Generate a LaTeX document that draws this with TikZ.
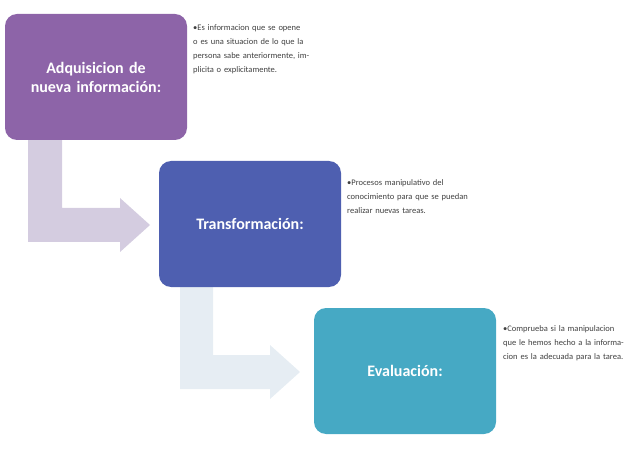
\documentclass[tikz,border=0pt]{standalone}
\usepackage{fontspec}
\setmainfont{Carlito}
\definecolor{c1}{HTML}{8D64A8}
\definecolor{c2}{HTML}{4E5FB0}
\definecolor{c3}{HTML}{46A9C4}
\definecolor{a1}{HTML}{D4CCE0}
\definecolor{a2}{HTML}{E6EDF3}
\definecolor{tx}{HTML}{404040}
\begin{document}
\begin{tikzpicture}[x=1pt,y=-1pt,
  box/.style={rounded corners=12pt,minimum width=182pt,minimum height=126pt,text width=170pt,align=center,font=\bfseries\fontsize{16}{19}\selectfont,text=white},
  desc/.style={anchor=north west,text width=122pt,align=left,font=\fontsize{8.5}{14}\selectfont,text=tx,inner sep=0pt}]
\useasboundingbox (0,0) rectangle (640,449);
\fill[a1] (28,140) -- (62,140) -- (62,208) -- (120,208) -- (120,198) -- (150,225) -- (120,252) -- (120,242) -- (28,242) -- cycle;
\fill[a2] (180,287) -- (213,287) -- (213,355) -- (270,355) -- (270,345) -- (300,372) -- (270,399) -- (270,389) -- (180,389) -- cycle;
\node[box,fill=c1] (b1) at (96,77) {Adquisicion de nueva información:};
\node[box,fill=c2] (b2) at (250,224) {Transformación:};
\node[box,fill=c3] (b3) at (405,371) {Evaluación:};
\node[desc] (t1) at (193,24) {\textbullet Es informacion que se opene o es una situacion de lo que la persona sabe anteriormente, implicita o explicitamente.};
\node[desc] (t2) at (347,179) {\textbullet Procesos manipulativo del conocimiento para que se puedan realizar nuevas tareas.};
\node[desc] (t3) at (503,325) {\textbullet Comprueba si la manipulacion que le hemos hecho a la informacion es la adecuada para la tarea.};
\end{tikzpicture}
\end{document}
